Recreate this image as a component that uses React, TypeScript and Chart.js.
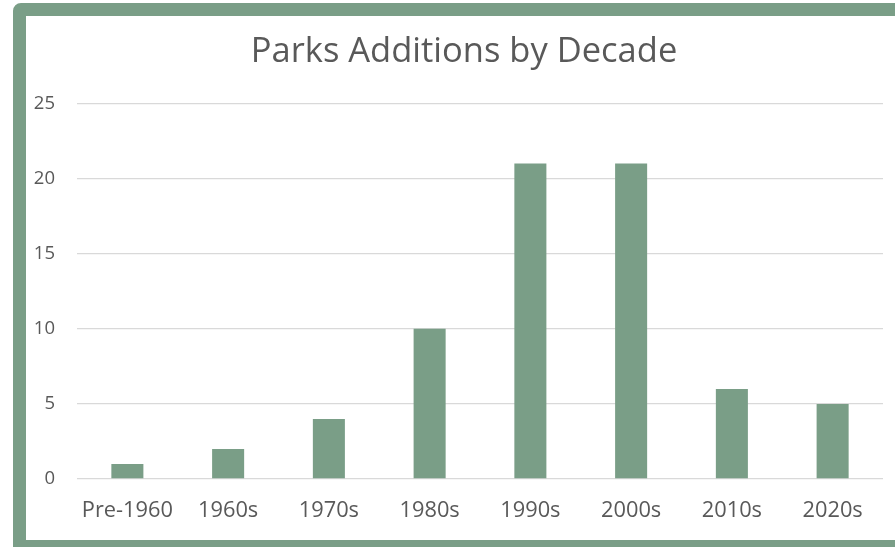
import React, { useEffect, useRef } from "react";
import { Chart, registerables } from "chart.js";

Chart.register(...registerables);

const categories: string[] = ["Pre-1960", "1960s", "1970s", "1980s", "1990s", "2000s", "2010s", "2020s"];
const parksAdded: number[] = [1, 2, 4, 10, 21, 21, 6, 5];
const yTicks: number[] = [0, 5, 10, 15, 20, 25];

const GREEN = "#7A9E87";
const TEXT = "#595959";
const GRID = "#D9D9D9";

export default function App() {
  const canvasRef = useRef<HTMLCanvasElement | null>(null);

  useEffect(() => {
    document.body.style.margin = "0";
    document.body.style.overflow = "hidden";
    const canvas = canvasRef.current;
    if (!canvas) return;
    const chart = new Chart(canvas, {
      type: "bar",
      data: {
        labels: categories,
        datasets: [
          {
            label: "Parks Added",
            data: parksAdded,
            backgroundColor: GREEN,
            borderWidth: 0,
            barPercentage: 1,
            categoryPercentage: 0.318,
            yAxisID: "y",
          },
        ],
      },
      options: {
        responsive: false,
        animation: false,
        devicePixelRatio: 1,
        layout: { padding: { left: 0, right: 0, top: 0, bottom: 17 } },
        plugins: {
          legend: { display: false },
          tooltip: { enabled: false },
          title: {
            display: true,
            text: "Parks Additions by Decade",
            color: TEXT,
            font: { family: "'Open Sans'", size: 34.5, weight: "normal", lineHeight: 1.2 },
            padding: { top: 15.4, bottom: 30.7 },
          },
        },
        scales: {
          x: {
            grid: { display: false, drawTicks: false },
            border: { display: false },
            ticks: {
              color: TEXT,
              font: { family: "'Open Sans'", size: 21.8, lineHeight: 1.2 },
              padding: 19,
              maxRotation: 0,
              autoSkip: false,
            },
            afterFit: (scale: any) => {
              scale.height = 44;
            },
          },
          y: {
            position: "left",
            min: 0,
            max: 25,
            afterBuildTicks: (scale: any) => {
              scale.ticks = yTicks.map((v) => ({ value: v }));
            },
            grid: { color: GRID, lineWidth: 1.3, drawTicks: false },
            border: { display: false },
            ticks: {
              color: TEXT,
              font: { family: "'Open Sans'", size: 18.5 },
              padding: 22,
            },
            afterFit: (scale: any) => {
              scale.width = 51;
            },
          },
          yRight: {
            position: "right",
            display: true,
            min: 0,
            max: 25,
            grid: { display: false, drawTicks: false },
            border: { display: false },
            ticks: { display: false },
            afterFit: (scale: any) => {
              scale.width = 19;
            },
          },
        },
      },
    });
    return () => chart.destroy();
  }, []);

  return (
    <div
      style={{
        position: "fixed",
        left: 0,
        top: 0,
        width: 895,
        height: 547,
        overflow: "hidden",
        background: "#ffffff",
      }}
    >
      <div
        style={{
          position: "absolute",
          left: 13,
          top: 3,
          width: 930,
          height: 550,
          boxSizing: "border-box",
          border: `13px solid ${GREEN}`,
          borderTopLeftRadius: 8,
          background: "#ffffff",
        }}
      >
        <canvas
          ref={canvasRef}
          width={876}
          height={524}
          style={{ position: "absolute", left: 0, top: 0, width: 876, height: 524 }}
        />
      </div>
    </div>
  );
}
